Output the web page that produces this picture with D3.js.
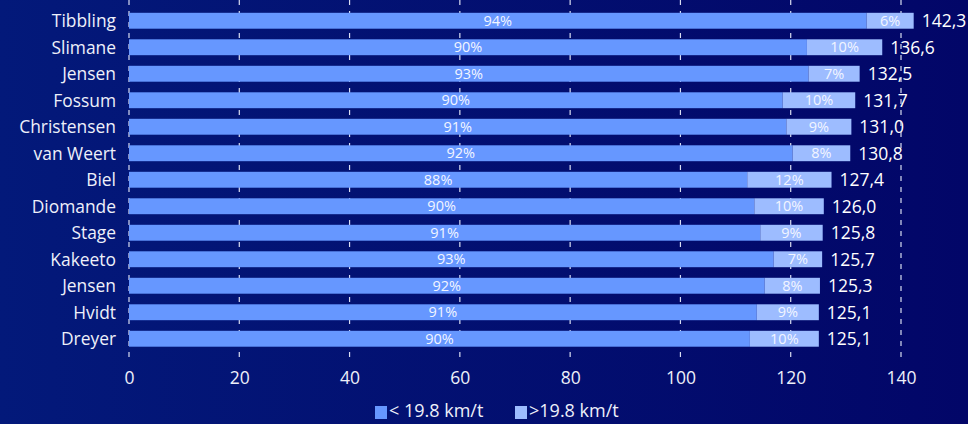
<!DOCTYPE html>
<html><head><meta charset="utf-8">
<script src="https://cdn.jsdelivr.net/npm/d3@7"></script>
<style>
html,body{margin:0;padding:0;background:#000a6e;}
svg{display:block;}
text{font-family:"Open Sans",sans-serif;}
</style></head>
<body>
<svg id="c" width="968" height="424"></svg>
<script>
const names = ["Tibbling","Slimane","Jensen","Fossum","Christensen","van Weert","Biel","Diomande","Stage","Kakeeto","Jensen","Hvidt","Dreyer"];
const totals = [142.3,136.6,132.5,131.7,131.0,130.8,127.4,126.0,125.8,125.7,125.3,125.1,125.1];
const lowPct = [94,90,93,90,91,92,88,90,91,93,92,91,90];
const highPct = [6,10,7,10,9,8,12,10,9,7,8,9,10];
const xTicks = [0,20,40,60,80,100,120,140];
const seriesNames = ["< 19.8 km/t", ">19.8 km/t"];
const colors = ["#6697ff", "#9dbcff"];

const W = 968, H = 424;
const svg = d3.select("#c");
const defs = svg.append("defs");
const g0 = defs.append("linearGradient").attr("id","bg").attr("x1","0").attr("x2","1").attr("y1","0").attr("y2","0");
g0.append("stop").attr("offset","0%").attr("stop-color","#03197a");
g0.append("stop").attr("offset","100%").attr("stop-color","#020668");
svg.append("rect").attr("width",W).attr("height",H).attr("fill","url(#bg)");

const x = d3.scaleLinear().domain([0,140]).range([129,901]);
const idx = names.map((d,i)=>i);
const y = d3.scaleBand().domain(idx).range([7.5,352]).paddingInner(0.4).paddingOuter(0.2);

const rows = idx.map(i => {
  const lowVal = totals[i]*lowPct[i]/100;
  return {i, name:names[i], total:totals[i], low:lowVal, lp:lowPct[i], hp:highPct[i]};
});

// value labels
svg.append("g").selectAll("text").data(rows).join("text")
  .attr("x", d => x(d.total)+8)
  .attr("y", d => y(d.i)+y.bandwidth()/2)
  .attr("dy","0.36em")
  .attr("fill","#ffffff")
  .attr("font-size",17.5)
  .text(d => d3.format(".1f")(d.total).replace(".",","));

// gridlines
svg.append("g").selectAll("line").data(xTicks).join("line")
  .attr("x1", d=>x(d)).attr("x2", d=>x(d))
  .attr("y1", 0).attr("y2", 360)
  .attr("stroke","#d8dcf0").attr("stroke-width",1.2)
  .attr("stroke-dasharray","5,6");

// bars
const bars = svg.append("g");
bars.selectAll("rect.low").data(rows).join("rect").attr("class","low")
  .attr("x", x(0)).attr("y", d=>y(d.i))
  .attr("width", d=>x(d.low)-x(0)).attr("height", y.bandwidth())
  .attr("fill", colors[0]);
bars.selectAll("rect.high").data(rows).join("rect").attr("class","high")
  .attr("x", d=>x(d.low)).attr("y", d=>y(d.i))
  .attr("width", d=>x(d.total)-x(d.low)).attr("height", y.bandwidth())
  .attr("fill", colors[1]);

// percent labels
const pl = svg.append("g").attr("font-size",14.5).attr("fill","#f2f5ff").attr("text-anchor","middle");
pl.selectAll("text.lp").data(rows).join("text").attr("class","lp")
  .attr("x", d=>(x(0)+x(d.low))/2).attr("y", d=>y(d.i)+y.bandwidth()/2).attr("dy","0.36em")
  .text(d=>d.lp+"%");
pl.selectAll("text.hp").data(rows).join("text").attr("class","hp")
  .attr("x", d=>(x(d.low)+x(d.total))/2).attr("y", d=>y(d.i)+y.bandwidth()/2).attr("dy","0.36em")
  .text(d=>d.hp+"%");

// category labels
svg.append("g").selectAll("text").data(rows).join("text")
  .attr("x", 116).attr("y", d=>y(d.i)+y.bandwidth()/2).attr("dy","0.36em")
  .attr("text-anchor","end").attr("fill","#eef0fa").attr("font-size",17.4)
  .text(d=>d.name);

// x axis
const ax = svg.append("g").attr("transform","translate(0,372)")
  .call(d3.axisBottom(x).tickValues(xTicks).tickSize(0).tickPadding(0).tickFormat(d3.format("d")));
ax.select(".domain").remove();
ax.selectAll("text").attr("fill","#eef0fa").attr("font-size",17.5).attr("font-family","'Open Sans',sans-serif").attr("dy","0.71em");

// legend
const leg = svg.append("g");
const legX = [375, 515];
seriesNames.forEach((s,k)=>{
  leg.append("rect").attr("x",legX[k]).attr("y",406).attr("width",12).attr("height",13).attr("fill",colors[k]);
  leg.append("text").attr("x",legX[k]+14).attr("y",411).attr("dy","0.36em")
    .attr("fill","#eef0fa").attr("font-size",18).text(s);
});
</script>
</body></html>
